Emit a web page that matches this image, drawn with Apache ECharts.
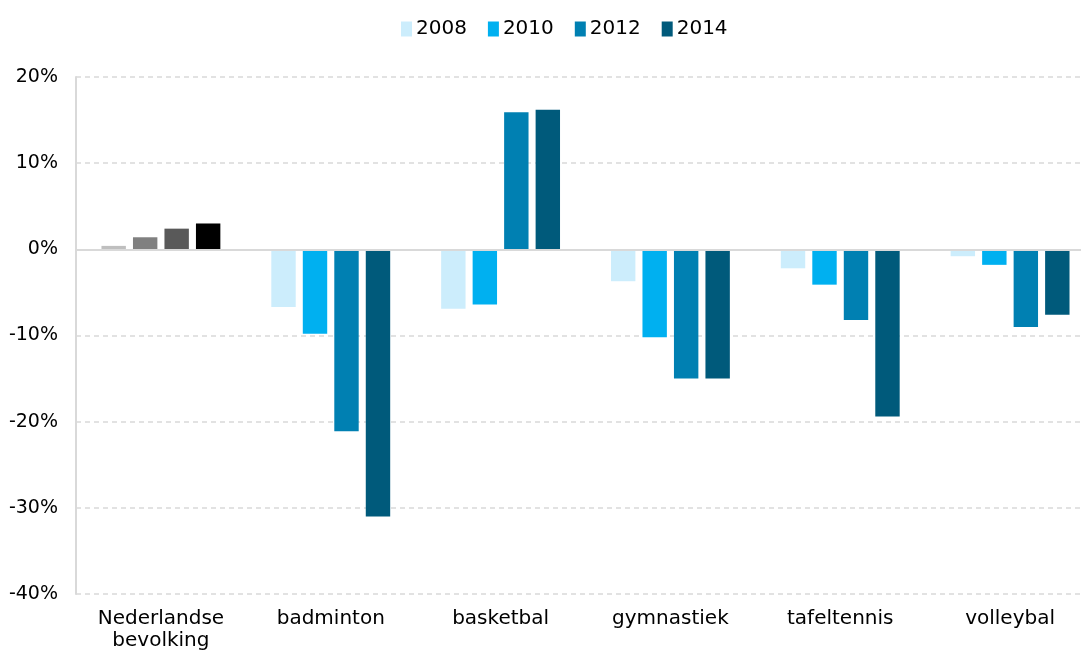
<!DOCTYPE html>
<html>
<head>
<meta charset="utf-8">
<script src="https://cdn.jsdelivr.net/npm/echarts@6/dist/echarts.min.js"></script>
<style>
  html, body { margin: 0; padding: 0; background: #fff; }
  #chart { width: 1081px; height: 653px; }
</style>
</head>
<body>
<div id="chart"></div>
<script>
const categories = ['Nederlandse\nbevolking', 'badminton', 'basketbal', 'gymnastiek', 'tafeltennis', 'volleybal']
const years = ['2008', '2010', '2012', '2014']
const values2008 = [0.4, -6.7, -6.9, -3.7, -2.2, -0.8]
const values2010 = [1.4, -9.8, -6.4, -10.2, -4.1, -1.8]
const values2012 = [2.4, -21.1, 15.9, -15.0, -8.2, -9.0]
const values2014 = [3.0, -31.0, 16.2, -15.0, -19.4, -7.6]
const yTicks = [-40, -30, -20, -10, 0, 10, 20]

const blues = ['#ccedfc', '#00b0f0', '#0080b2', '#005a7b']
const greys = ['#bfbfbf', '#808080', '#595959', '#000000']
const allValues = [values2008, values2010, values2012, values2014]

const font = 'DejaVu Sans'

const series = years.map((year, i) => {
  return {
    name: year,
    type: 'bar',
    barGap: '29%',
    barCategoryGap: '30%',
    color: blues[i],
    // eerste categorie in grijstinten
    data: allValues[i].map((v, j) => {
      if (j === 0) return { value: v, itemStyle: { color: greys[i] } }
      return v
    }),
  }
})

// nullijn
series[0].markLine = {
  silent: true,
  symbol: 'none',
  label: { show: false },
  lineStyle: { color: '#d9d9d9', type: 'solid', width: 2 },
  data: [{ yAxis: 0 }],
}

const option = {
  animation: false,
  textStyle: { fontFamily: font },
  legend: {
    top: 14,
    left: 396,
    itemWidth: 11,
    itemHeight: 15,
    itemGap: 21,
    icon: 'rect',
    textStyle: { fontSize: 20, color: '#000', fontFamily: font, padding: [0, 0, 0, -1] },
    data: years,
  },
  grid: {
    left: 76,
    width: 1019,
    top: 77,
    bottom: 59,
    containLabel: false,
    outerBoundsMode: 'none',
  },
  xAxis: {
    type: 'category',
    data: categories,
    axisLine: { show: false, onZero: false },
    axisTick: { show: false },
    axisLabel: {
      fontSize: 20,
      color: '#000',
      margin: 14,
      lineHeight: 22,
      fontFamily: font,
    },
  },
  yAxis: {
    type: 'value',
    min: yTicks[0],
    max: yTicks[yTicks.length - 1],
    interval: 10,
    axisLine: { show: true, lineStyle: { color: '#d9d9d9', width: 2 } },
    axisTick: { show: false },
    axisLabel: {
      fontSize: 19,
      color: '#000',
      margin: 18,
      fontFamily: font,
      formatter: (v) => v + '%',
    },
    splitLine: {
      show: true,
      lineStyle: { color: '#d9d9d9', type: [5, 4], width: 1.5 },
    },
  },
  series: series,
}

const myEcharts = echarts.init(document.getElementById('chart'))
myEcharts.setOption(option)
</script>
</body>
</html>
